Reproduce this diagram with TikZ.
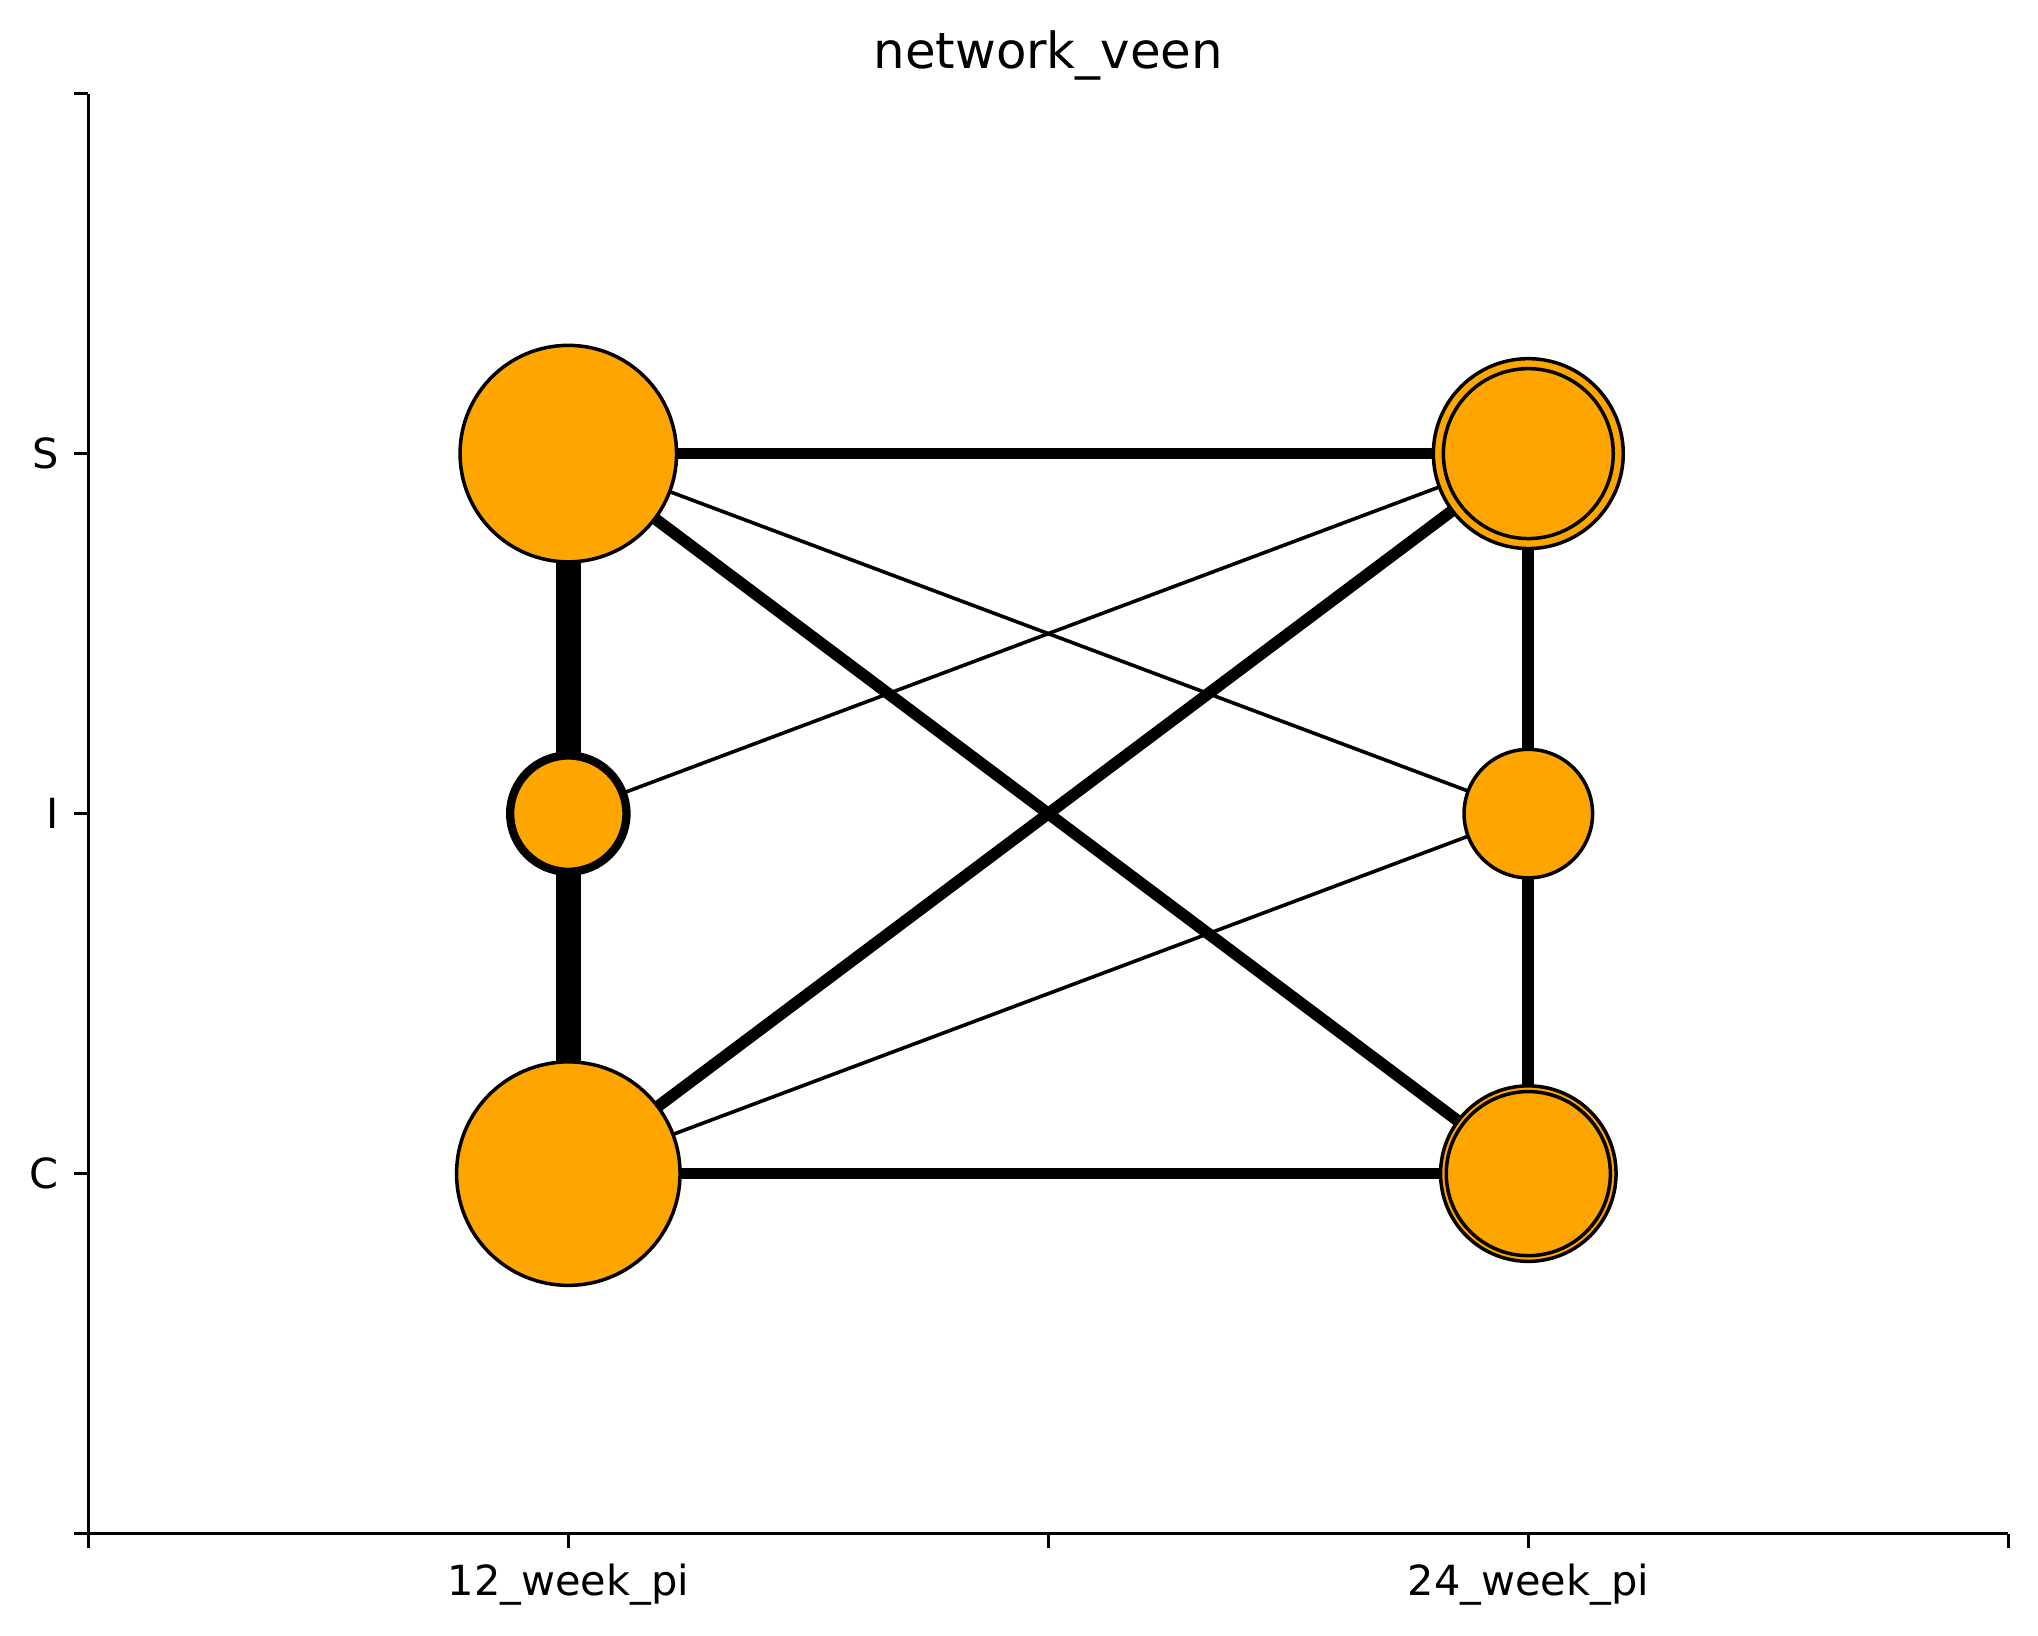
\documentclass[tikz,border=0pt]{standalone}
\usepackage{fontspec}
\setmainfont{DejaVu Sans}
\usetikzlibrary{backgrounds}
\newlength\pxl
\setlength\pxl{0.2409pt}
\definecolor{nodeorange}{HTML}{FFA500}
\begin{document}
\begin{tikzpicture}[x=0.2409pt,y=-0.2409pt,
  spine/.style={line width=3.33\pxl},
  tickmark/.style={line width=3.33\pxl},
  ticklabel/.style={inner sep=0pt, font=\fontsize{10}{12}\selectfont},
  vnode/.style={circle, draw=black, fill=nodeorange, line width=3.5\pxl, inner sep=0pt, outer sep=0pt},
  thickedge/.style={line width=11.7\pxl, draw=black},
  heavyedge/.style={line width=25\pxl, draw=black},
  thinedge/.style={line width=3.6\pxl, draw=black}]
\useasboundingbox (0,0) rectangle (2038,1635);

% nodes
\node[vnode, minimum size=216.5\pxl] (s12) at (568.3,453.6) {};
\node[vnode, line width=8.3\pxl, minimum size=116.3\pxl] (i12) at (568.3,813.6) {};
\node[vnode, minimum size=223.5\pxl] (c12) at (568.3,1173.6) {};
\node[vnode, minimum size=189.9\pxl] (s24) at (1528.3,453.6) {};
\node[vnode, minimum size=169.9\pxl] (s24in) at (1528.3,453.6) {};
\node[vnode, minimum size=128.5\pxl] (i24) at (1528.3,813.6) {};
\node[vnode, minimum size=175.5\pxl] (c24) at (1528.3,1173.6) {};
\node[vnode, minimum size=164.1\pxl] (c24in) at (1528.3,1173.6) {};

% edges under the nodes
\begin{pgfonlayer}{background}
\fill[white] (0,0) rectangle (2038,1635);
\draw[thickedge] (s12.center) -- (s24.center);
\draw[thickedge] (c12.center) -- (c24.center);
\draw[heavyedge] (s12.center) -- (i12.center);
\draw[heavyedge] (i12.center) -- (c12.center);
\draw[thickedge] (s24.center) -- (i24.center);
\draw[thickedge] (i24.center) -- (c24.center);
\draw[thickedge] (s12.center) -- (c24.center);
\draw[thickedge] (c12.center) -- (s24.center);
\draw[thinedge] (s12.center) -- (i24.center);
\draw[thinedge] (i12.center) -- (s24.center);
\draw[thinedge] (c12.center) -- (i24.center);
\end{pgfonlayer}

% axes
\draw[spine] (88.4,93.6) -- (88.4,1533.6);
\draw[spine] (88.4,1533.6) -- (2008.2,1533.6);
\foreach \yy in {93.6,453.6,813.6,1173.6,1533.6}
  \draw[tickmark] (73.8,\yy) -- (88.4,\yy);
\foreach \xx in {88.4,568.3,1048.3,1528.3,2008.2}
  \draw[tickmark] (\xx,1533.6) -- (\xx,1548.2);

% labels
\node[anchor=base, inner sep=0pt, font=\fontsize{12}{14}\selectfont] (title) at (1048.3,68.3) {network\_veen};
\node[ticklabel, anchor=east] (lS) at (59.2,453.6) {S};
\node[ticklabel, anchor=east] (lI) at (59.2,813.6) {I};
\node[ticklabel, anchor=east] (lC) at (59.2,1173.6) {C};
\node[ticklabel, anchor=north] (l12) at (568.3,1562.8) {12\_week\_pi};
\node[ticklabel, anchor=north] (l24) at (1528.3,1562.8) {24\_week\_pi};
\end{tikzpicture}
\end{document}
